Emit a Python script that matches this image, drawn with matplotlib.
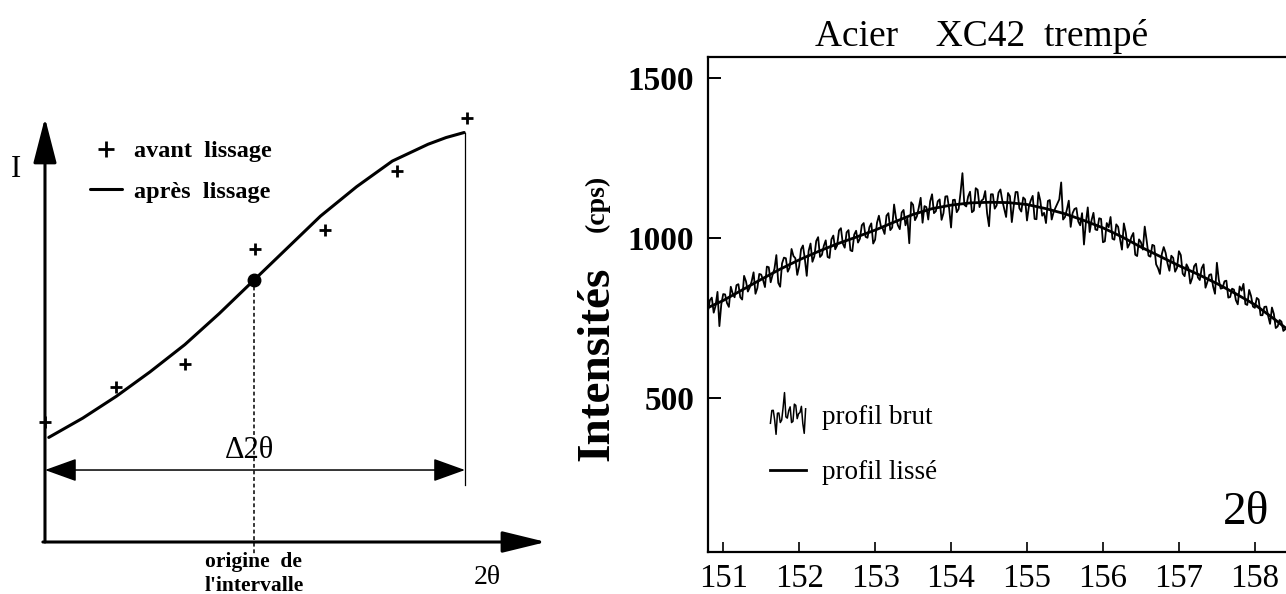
import numpy as np
import matplotlib
matplotlib.use("Agg")
import matplotlib.pyplot as plt
from matplotlib.lines import Line2D
from matplotlib.legend_handler import HandlerLine2D

plt.rcParams['font.family'] = ['Liberation Serif', 'DejaVu Serif']

# --- schema de gauche (unites arbitraires, intervalle 2theta = 0..10)
lisse_x = [0.09, 0.9, 1.70, 2.5, 3.33, 4.15, 4.97, 5.77, 6.56, 7.42, 8.27, 9.12, 9.55, 9.98]
lisse_y = [2.49, 2.95, 3.47, 4.05, 4.70, 5.44, 6.23, 7.00, 7.76, 8.46, 9.07, 9.47, 9.63, 9.75]
avant_x = [0.0, 1.69, 3.33, 4.99, 6.67, 8.38, 10.04]
avant_y = [2.86, 3.69, 4.25, 6.98, 7.44, 8.84, 10.1]
origine_idx = 6
intervalle = (0.0, 10.0)

# --- profil XC42 trempe (pas de 0.025 deg)
two_theta_start = 150.80
two_theta_end = 158.40
profil_brut = [
    773, 806, 814, 767, 789, 832, 725, 793, 825, 824, 797, 785, 848, 827, 815, 853, 856, 815, 808, 882,
    865, 833, 846, 865, 893, 826, 844, 888, 886, 869, 847, 911, 909, 862, 885, 904, 947, 860, 848, 921,
    939, 937, 895, 908, 966, 944, 937, 885, 912, 965, 977, 935, 882, 960, 983, 926, 943, 991, 1003, 941,
    948, 976, 993, 941, 938, 996, 1008, 965, 977, 1024, 1031, 983, 970, 1018, 1025, 962, 959, 1011, 1023, 986,
    998, 1040, 1047, 1004, 1001, 1034, 1046, 983, 995, 1048, 1070, 1038, 1030, 1013, 1070, 1078, 1025, 1033, 1105, 1063,
    1040, 1028, 1080, 1088, 1040, 1062, 984, 1112, 1104, 1056, 1068, 1095, 1126, 1048, 1100, 1097, 1058, 1115, 1137, 1078,
    1084, 1115, 1121, 1057, 1078, 1130, 1131, 1092, 1033, 1119, 1120, 1081, 1091, 1142, 1203, 1104, 1099, 1130, 1145, 1081,
    1086, 1156, 1151, 1097, 1117, 1122, 1147, 1077, 1037, 1137, 1137, 1092, 1102, 1142, 1152, 1117, 1091, 1066, 1141, 1131,
    1050, 1100, 1144, 1144, 1093, 1083, 1127, 1121, 1055, 1099, 1118, 1132, 1060, 1059, 1143, 1117, 1070, 1079, 1047, 1116,
    1119, 1058, 1081, 1095, 1108, 1121, 1174, 1058, 1066, 1089, 1117, 1035, 1078, 1091, 1094, 1052, 1040, 1078, 980, 1048,
    1096, 1019, 1056, 1079, 1027, 1025, 1062, 1060, 987, 990, 1047, 1034, 1066, 998, 995, 1043, 1035, 997, 964, 1046,
    1018, 970, 982, 1004, 1016, 948, 944, 996, 987, 964, 1036, 993, 945, 942, 979, 976, 918, 906, 888, 950,
    972, 954, 921, 898, 945, 938, 895, 907, 959, 947, 889, 881, 918, 906, 858, 875, 912, 920, 877, 869,
    906, 918, 845, 863, 885, 887, 849, 826, 923, 870, 842, 844, 865, 867, 814, 816, 842, 839, 806, 793,
    849, 836, 857, 794, 791, 838, 819, 786, 782, 813, 808, 759, 759, 785, 786, 757, 732, 783, 763, 719,
    724, 744, 739, 710, 715]
lisse_2theta = [150.82, 151.0, 151.25, 151.5, 151.75, 152.0, 152.25, 152.5, 152.75,
                153.0, 153.25, 153.5, 153.75, 154.0, 154.25, 154.5, 154.75, 155.0,
                155.25, 155.5, 155.75, 156.0, 156.25, 156.5, 156.75, 157.0, 157.25,
                157.5, 157.75, 158.0, 158.25, 158.4]
profil_lisse = [785, 805, 838, 871, 903, 932, 958, 982, 1003, 1025, 1050, 1074, 1092,
                1103, 1110, 1112, 1111, 1105, 1092, 1076, 1055, 1032, 1004, 972, 943,
                914, 887, 858, 826, 792, 748, 720]
x_ticks = [151, 152, 153, 154, 155, 156, 157, 158]
y_ticks = [500, 1000, 1500]


class HandlerBrut(HandlerLine2D):
    # petit bout de profil brut comme symbole de legende
    def create_artists(self, legend, orig_handle, xdescent, ydescent, width, height, fontsize, trans):
        seg = np.asarray(profil_brut[124:150], float)
        xs = np.linspace(0, width, len(seg)) - xdescent
        ys = (seg - seg.mean()) / (seg.max() - seg.min()) * height * 2.2 + height / 2 - ydescent
        line = Line2D(xs, ys, color='black', lw=1.1)
        line.set_transform(trans)
        return [line]


fig = plt.figure(figsize=(12.86, 5.94), dpi=100)

# ================= gauche
ax = fig.add_axes([0, 0, 560 / 1286, 1])
ax.set_xlim(-1.071, 12.262)
ax.set_ylim(-1.238, 12.905)
ax.axis('off')

ax.annotate('', xy=(0, avant_y[-1]), xytext=(0, 0),
            arrowprops=dict(arrowstyle='-|>,head_length=1.4,head_width=0.36', lw=2.2,
                            color='black', mutation_scale=20, shrinkA=0, shrinkB=0))
ax.annotate('', xy=(11.93, 0), xytext=(-0.05, 0),
            arrowprops=dict(arrowstyle='-|>,head_length=1.35,head_width=0.33', lw=2.2,
                            color='black', mutation_scale=20, shrinkA=0, shrinkB=0))
y_arrow = 1.714
ax.annotate('', xy=(intervalle[1], y_arrow), xytext=(intervalle[0], y_arrow),
            arrowprops=dict(arrowstyle='<|-|>,head_length=1.0,head_width=0.36', lw=1.1,
                            color='black', mutation_scale=20, shrinkA=0, shrinkB=0))

curve, = ax.plot(lisse_x, lisse_y, color='black', lw=2.2, solid_capstyle='round',
                 solid_joinstyle='round')
plus, = ax.plot(avant_x, avant_y, ls='none', marker='+', ms=9, mew=2.0, color='black')
ox, oy = lisse_x[origine_idx], lisse_y[origine_idx]
ax.plot([ox], [oy], 'o', ms=9, color='black')
ax.plot([ox, ox], [oy, -0.3], color='black', lw=1.1, ls=(0, (2.5, 1.8)))
ax.plot([intervalle[1], intervalle[1]], [lisse_y[-1], 1.36], color='black', lw=0.9)

ax.text(ox - 0.1, y_arrow + 0.12, 'Δ2θ', ha='center', va='bottom', fontsize=22)
ax.text(-0.69, 8.86, 'I', ha='center', va='center', fontsize=22)
ax.text(10.52, -0.857, '2θ', ha='center', va='center', fontsize=20)
ax.text(ox, -0.476, 'origine  de', ha='center', va='center', fontsize=15.5, fontweight='bold')
ax.text(ox, -1.04, "l'intervalle", ha='center', va='center', fontsize=15.5, fontweight='bold')

ax.legend([plus, curve], ['avant  lissage', 'après  lissage'], loc='upper left',
          bbox_to_anchor=(0.161, 0.7635), frameon=False, borderpad=0, borderaxespad=0,
          handlelength=1.3, handletextpad=0.5, labelspacing=0.76, markerscale=1.3,
          prop=dict(family='Liberation Serif', weight='bold', size=17.5))

# ================= droite
ax2 = fig.add_axes([708 / 1286, 42 / 594, 578 / 1286, 495 / 594])
tt = np.linspace(two_theta_start, two_theta_end, len(profil_brut))
brut, = ax2.plot(tt, profil_brut, color='black', lw=1.3)
liss, = ax2.plot(lisse_2theta, profil_lisse, color='black', lw=2.0)
ax2.set_xlim(150.80, 158.41)
ax2.set_ylim(19, 1566)
ax2.spines['right'].set_visible(False)
for s in ['left', 'top', 'bottom']:
    ax2.spines[s].set_linewidth(1.6)
ax2.set_xticks(x_ticks)
ax2.set_yticks(y_ticks)
ax2.tick_params(axis='y', direction='in', length=9, width=1.4, pad=10, labelsize=24)
ax2.tick_params(axis='x', direction='in', length=7, width=1.2, pad=8, labelsize=23.5)
for lab in ax2.get_yticklabels():
    lab.set_fontweight('bold')

ax2.set_title('Acier    XC42  trempé', x=0.473, pad=8, fontsize=27)
ax2.text(0.931, 0.08, '2θ', transform=ax2.transAxes, ha='center', va='center', fontsize=34)

ax2.legend([brut, liss], ['profil brut', 'profil lissé'], loc='upper left',
           bbox_to_anchor=(0.108, 0.296), frameon=False, borderpad=0, borderaxespad=0,
           handlelength=1.3, handletextpad=0.6, labelspacing=1.1,
           handler_map={brut: HandlerBrut()}, prop=dict(family='Liberation Serif', size=19.5))

fig.text(597 / 1286, 1 - 364 / 594, 'Intensités', rotation=90, ha='center', va='center',
         fontsize=34, fontweight='bold')
fig.text(597 / 1286, 1 - 203 / 594, '(cps)', rotation=90, ha='center', va='center',
         fontsize=20, fontweight='bold')

fig.savefig('out.png', dpi=100)
